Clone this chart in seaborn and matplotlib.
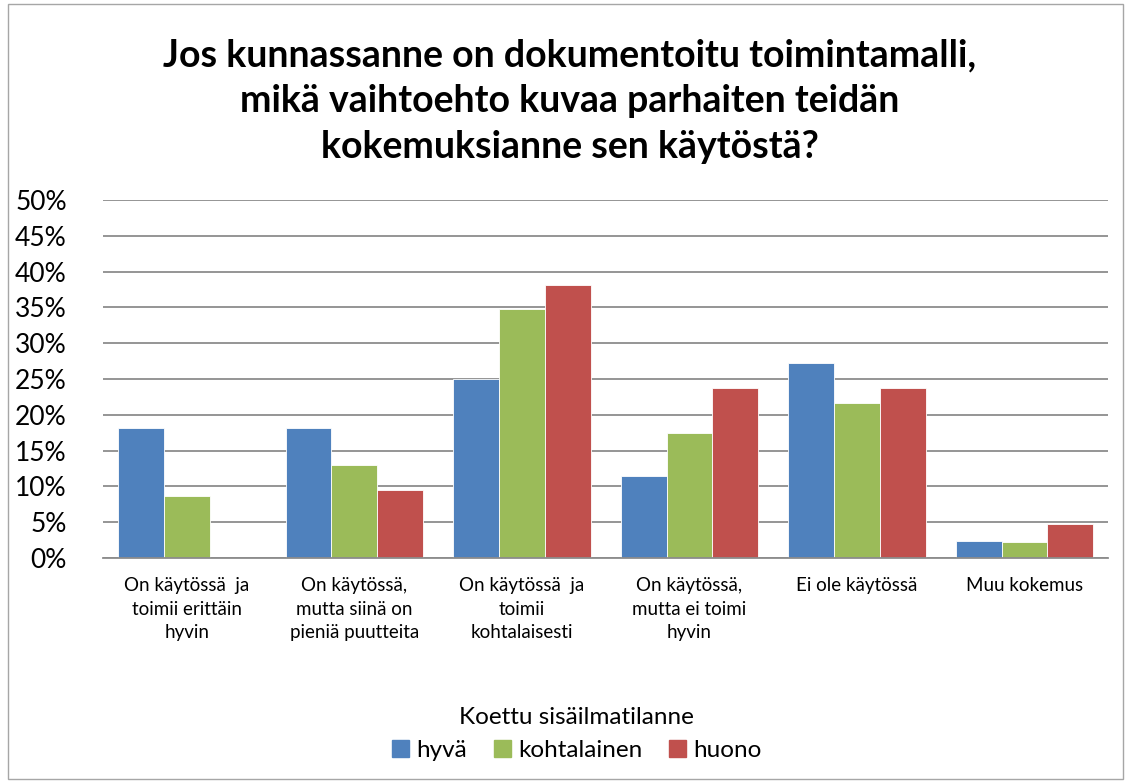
import pandas as pd
import numpy as np
import matplotlib
matplotlib.use("Agg")
import matplotlib.pyplot as plt
import seaborn as sns
from matplotlib.patches import Rectangle
from matplotlib.ticker import FuncFormatter

# --- data (percent of respondents) ---
categories = [
    "On käytössä  ja\ntoimii erittäin\nhyvin",
    "On käytössä,\nmutta siinä on\npieniä puutteita",
    "On käytössä  ja\ntoimii\nkohtalaisesti",
    "On käytössä,\nmutta ei toimi\nhyvin",
    "Ei ole käytössä",
    "Muu kokemus",
]
series_names = ["hyvä", "kohtalainen", "huono"]
hyva = [18.2, 18.2, 25.0, 11.4, 27.3, 2.3]
kohtalainen = [8.7, 13.0, 34.8, 17.4, 21.7, 2.2]
huono = [0.0, 9.5, 38.1, 23.8, 23.8, 4.8]
colors = ["#4F81BD", "#9BBB59", "#C0504D"]

df = pd.DataFrame({
    "kategoria": categories * 3,
    "sarja": np.repeat(series_names, len(categories)),
    "arvo": hyva + kohtalainen + huono,
})

sns.set_style("white")
plt.rcParams["font.family"] = ["Lato", "DejaVu Sans"]
plt.rcParams["text.color"] = "black"
plt.rcParams["xtick.color"] = "black"
plt.rcParams["ytick.color"] = "black"

fig = plt.figure(figsize=(11.31, 7.83), dpi=100)
ax = fig.add_axes([0.091, 0.2874, 0.889, 0.4572])

sns.barplot(data=df, x="kategoria", y="arvo", hue="sarja", palette=colors,
            width=0.82, gap=0, ax=ax, legend=False, saturation=1,
            edgecolor="white", linewidth=0.6)

ax.set_ylim(0, 50)
ax.set_yticks(np.arange(0, 51, 5))
ax.yaxis.set_major_formatter(FuncFormatter(lambda v, p: f"{v:.0f}%"))
ax.grid(axis="y", color="#8c8c8c", linewidth=1.3)
ax.set_axisbelow(True)
for s in ["top", "right", "left"]:
    ax.spines[s].set_visible(False)
ax.spines["bottom"].set_color("#8c8c8c")
ax.spines["bottom"].set_linewidth(1.3)
ax.tick_params(axis="y", labelsize=19, length=0, pad=26)
ax.tick_params(axis="x", labelsize=13.5, length=0, pad=14)
for lbl in ax.get_xticklabels():
    lbl.set_linespacing(1.45)
ax.set_xlabel("")
ax.set_ylabel("")
ax.set_xlim(-0.5, 5.5)

fig.text(0.504, 0.871,
         "Jos kunnassanne on dokumentoitu toimintamalli,\nmikä vaihtoehto kuvaa parhaiten teidän\nkokemuksianne sen käytöstä?",
         ha="center", va="center", fontsize=27, fontweight="bold", linespacing=1.42)

handles = [Rectangle((0, 0), 1, 1, color=c) for c in colors]
leg = fig.legend(handles, series_names, title="Koettu sisäilmatilanne",
                 loc="center", bbox_to_anchor=(0.51, 0.063), ncol=3,
                 frameon=False, fontsize=17.5, title_fontsize=17.5,
                 handlelength=0.7, handleheight=0.7, handletextpad=0.3,
                 columnspacing=1.1)

# outer chart border
fig.patches.append(Rectangle((0.007, 0.005), 0.986, 0.99, transform=fig.transFigure,
                             fill=False, edgecolor="#a6a6a6", linewidth=1))

fig.savefig("out.png", dpi=100)
